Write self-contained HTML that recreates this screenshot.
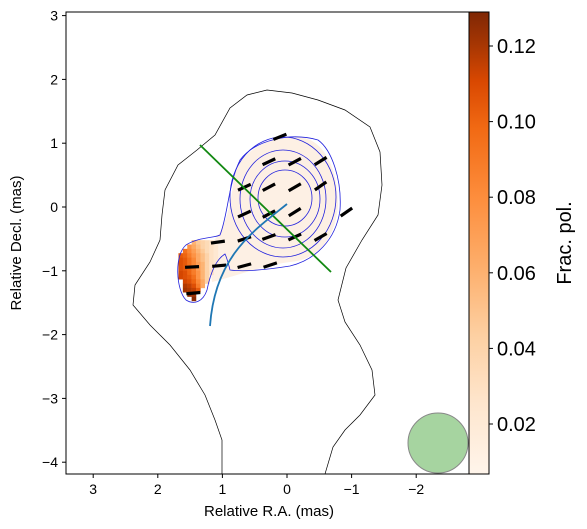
<!DOCTYPE html>
<html><head><meta charset="utf-8"><style>
body{margin:0;background:#fff;width:587px;height:529px;overflow:hidden}
svg{display:block;font-family:"Liberation Sans","DejaVu Sans",sans-serif}
</style></head><body>
<svg id="c" width="587" height="529" viewBox="0 0 587 529">
<defs>
<linearGradient id="cbg" x1="0" y1="1" x2="0" y2="0">
<stop offset="0" stop-color="#fff5eb"/><stop offset="0.15" stop-color="#fee6ce"/>
<stop offset="0.3" stop-color="#fdd0a2"/><stop offset="0.45" stop-color="#fdae6b"/>
<stop offset="0.6" stop-color="#fd8d3c"/><stop offset="0.75" stop-color="#f16913"/>
<stop offset="0.85" stop-color="#d94801"/><stop offset="0.93" stop-color="#a63603"/>
<stop offset="1" stop-color="#7f2704"/></linearGradient>
<clipPath id="pc"><rect x="66" y="12" width="403" height="462"/></clipPath>
</defs>
<g id="plot" clip-path="url(#pc)"></g>
<rect x="66" y="12" width="403" height="462" fill="none" stroke="#000" stroke-width="1"/>
<rect x="469" y="12" width="20" height="462" fill="url(#cbg)" stroke="#000" stroke-width="1"/>
<g id="axes"></g>
<text x="269" y="516" font-size="15" text-anchor="middle">Relative R.A. (mas)</text>
<text transform="translate(21,243) rotate(-90)" font-size="15" text-anchor="middle">Relative Decl. (mas)</text>
<text transform="translate(571,243) rotate(-90)" font-size="20" text-anchor="middle">Frac. pol.</text>
</svg>
<script>
const NS="http://www.w3.org/2000/svg";
const xTicks=[3,2,1,0,-1,-2];
const yTicks=[3,2,1,0,-1,-2,-3,-4];
const cbTicks=[0.02,0.04,0.06,0.08,0.10,0.12];
const cbLabels=["0.02","0.04","0.06","0.08","0.10","0.12"];
// EVPA sticks: RA, Dec (mas), angle deg
const stickRA=[0.11,0.28,-0.12,-0.52,0.66,0.28,-0.12,-0.52,0.66,0.28,-0.12,-0.92,0.66,0.28,-0.12,-0.52,1.07,0.66,0.26,1.05,1.47,1.45];
const stickDec=[1.10,0.71,0.71,0.72,0.31,0.31,0.31,0.33,-0.11,-0.11,-0.08,-0.08,-0.50,-0.47,-0.47,-0.47,-0.55,-0.92,-0.91,-0.92,-0.94,-1.35];
const stickAng=[22,25,28,32,25,28,30,35,25,28,32,35,18,20,25,30,8,15,18,5,3,5];
// fractional polarization grid for the southern knot (rows top->bottom, cols left->right)
const gridRA0=1.68, gridDec0=-0.52, cell=0.068;
const fpol=[
[null,null,null,0.05,0.04,0.035,0.03,0.025,null],
[null,null,0.065,0.055,0.045,0.035,0.03,0.025,0.02],
[null,0.08,0.07,0.06,0.05,0.04,0.03,0.025,0.02],
[0.09,0.085,0.075,0.065,0.055,0.045,0.035,0.025,0.02],
[0.095,0.09,0.08,0.07,0.055,0.045,0.035,0.025,0.02],
[0.095,0.09,0.08,0.07,0.06,0.05,0.035,0.025,0.02],
[0.095,0.09,0.085,0.075,0.06,0.05,0.035,0.025,null],
[0.1,0.095,0.085,0.075,0.065,0.05,0.035,0.025,null],
[0.1,0.095,0.09,0.08,0.065,0.05,0.035,null,null],
[null,0.1,0.095,0.085,0.07,0.055,0.035,null,null],
[null,0.11,0.105,0.095,0.075,0.055,null,null,null],
[null,0.115,0.11,0.105,0.09,null,null,null,null],
[null,null,0.12,0.115,null,null,null,null,null],
[null,null,null,0.125,null,null,null,null,null]];
const X=v=>287-v*64.6, Y=v=>207-v*63.8, CB=v=>424-(v-0.02)*3780;
function oranges(t){const s=[[255,245,235],[254,230,206],[253,208,162],[253,174,107],[253,141,60],[241,105,19],[217,72,1],[166,54,3],[127,39,4]];
 t=Math.max(0,Math.min(1,(t-0.0068)/(0.129-0.0068)));const f=t*8,i=Math.min(7,Math.floor(f)),r=f-i;
 const c=s[i].map((a,k)=>Math.round(a+(s[i+1][k]-a)*r));return `rgb(${c})`;}
function el(tag,a,parent){const e=document.createElementNS(NS,tag);for(const k in a)e.setAttribute(k,a[k]);parent.appendChild(e);return e;}
const plot=document.getElementById('plot'), axes=document.getElementById('axes');
const core=el('path',{d:"M212,282 L207,245 C225,238 232,200 234,175 C242,150 270,135 300,137 C325,140 338,170 338,205 C336,235 320,260 290,262 C265,265 240,275 212,282Z",fill:"#fdf0e4"},plot);

fpol.forEach((row,r)=>row.forEach((v,c)=>{if(v==null)return;
 const x=X(gridRA0-c*cell), y=Y(gridDec0-r*cell);
 const rc=el('rect',{x:x,y:y,width:4.6,height:4.6,fill:oranges(v)},plot);
 }));
const oc=el('path',{d:"M222,474 L222,440 L215,420 L205,395 L190,370 L170,345 L150,325 L133,305 L135,285 L150,262 L160,240 L162,215 L165,190 L178,165 L197,150 L215,135 L230,108 L247,95 L267,90 L292,93 L318,100 L345,110 L370,127 L380,152 L382,185 L378,215 L362,240 L346,268 L338,300 L345,322 L360,345 L372,370 L375,395 L360,415 L345,430 L333,447 L325,474",fill:"none",stroke:"#000","stroke-width":0.7},plot);

const bl={fill:"none",stroke:"#2222dd","stroke-width":0.8};
const c1=el('path',Object.assign({d:"M186,300 C176,290 174,255 186,245 C198,237 215,238 220,235 C228,215 228,185 240,160 C255,140 290,132 318,140 C332,150 342,180 340,210 C336,240 315,260 290,266 C265,270 245,272 230,270 C228,262 226,256 225,254 C215,260 210,275 207,290 C203,302 194,305 186,300Z"},bl),plot);

[[283,197,53,60],[283,199,43,49],[285,199,35,38],[285,198,27,28]].forEach(e=>{
 const ce=el('ellipse',Object.assign({cx:e[0],cy:e[1],rx:e[2],ry:e[3]},bl),plot);
 });
stickRA.forEach((ra,i)=>{const a=stickAng[i]*Math.PI/180,L=7,cx=X(ra),cy=Y(stickDec[i]);
 const s=el('line',{x1:cx-L*Math.cos(a),y1:cy+L*Math.sin(a),x2:cx+L*Math.cos(a),y2:cy-L*Math.sin(a),stroke:"#000","stroke-width":3.2},plot);
 });
const gl=el('line',{x1:200,y1:145,x2:331,y2:272,stroke:"#118811","stroke-width":1.8},plot);

const bc=el('path',{d:"M287,204 C255,230 215,255 210,326",fill:"none",stroke:"#1f77b4","stroke-width":1.8},plot);

const beam=el('circle',{cx:438,cy:443,r:30,fill:"#a6d4a0",stroke:"#888","stroke-width":1},plot);

xTicks.forEach(t=>{const x=X(t);
 const tk=el('line',{x1:x,y1:474,x2:x,y2:478,stroke:"#000"},axes);
 const tx=el('text',{x:x,y:494,"font-size":14,"text-anchor":"middle"},axes);tx.textContent=t<0?"\u2212"+(-t):t;
 });
yTicks.forEach(t=>{const y=Y(t);
 const tk=el('line',{x1:62,y1:y,x2:66,y2:y,stroke:"#000"},axes);
 const tx=el('text',{x:58,y:y+5,"font-size":14,"text-anchor":"end"},axes);tx.textContent=t<0?"\u2212"+(-t):t;
 });
cbTicks.forEach((t,i)=>{const y=CB(t);
 const tk=el('line',{x1:489,y1:y,x2:493,y2:y,stroke:"#000"},axes);
 const tx=el('text',{x:497,y:y+7,"font-size":20},axes);tx.textContent=cbLabels[i];
 });
</script>
</body></html>
